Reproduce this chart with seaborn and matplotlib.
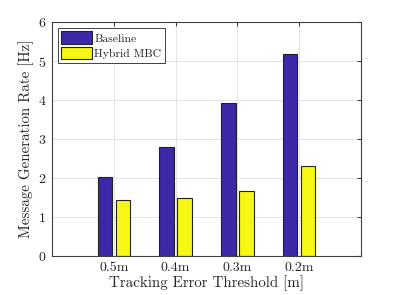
import pandas as pd
import numpy as np
import matplotlib
matplotlib.use("Agg")
import matplotlib.pyplot as plt
import seaborn as sns

thresholds = ["0.5m", "0.4m", "0.3m", "0.2m"]
baseline = [2.03, 2.79, 3.92, 5.18]
hybrid = [1.44, 1.49, 1.66, 2.32]
series_names = ["Baseline", "Hybrid MBC"]
y_ticks = [0, 1, 2, 3, 4, 5, 6]

df = pd.DataFrame({
    "Threshold": thresholds * 2,
    "Rate": baseline + hybrid,
    "Method": [series_names[0]] * 4 + [series_names[1]] * 4,
})

sns.set_style("whitegrid")
plt.rcParams["font.family"] = ["cmr10", "DejaVu Serif"]
plt.rcParams["axes.formatter.use_mathtext"] = True

fig = plt.figure(figsize=(3.99, 2.95), dpi=100)
ax = fig.add_axes([0.130, 0.132, 0.775, 0.793])

sns.barplot(data=df, x="Threshold", y="Rate", hue="Method", ax=ax,
            palette=["#3D28A8", "#F7F714"], width=0.58, gap=0.2,
            edgecolor="#222222", linewidth=0.8, saturation=1)

ax.set_xlim(-1, 4)
ax.set_ylim(0, 6)
ax.set_yticks(y_ticks)
ax.set_xlabel("Tracking Error Threshold [m]", fontsize=10.8, color="#262626", labelpad=1)
ax.set_ylabel("Message Generation Rate [Hz]", fontsize=10.8, color="#262626", labelpad=3)
ax.tick_params(axis="both", which="both", direction="in", length=3, labelsize=10,
               colors="#404040", top=True, right=True, labelcolor="#262626", pad=4)
ax.grid(True, color="#E3E3E3", linewidth=0.7)
ax.set_axisbelow(True)
for s in ax.spines.values():
    s.set_visible(True)
    s.set_color("#404040")
    s.set_linewidth(0.8)

leg = ax.legend(loc="upper left", fontsize=8.4, frameon=True, fancybox=False,
                edgecolor="#404040", framealpha=1, borderpad=0.3,
                handlelength=2.6, handleheight=1.3, handletextpad=0.25,
                labelspacing=0.2, borderaxespad=0.5)
leg.get_frame().set_linewidth(0.7)

fig.savefig("out.png", dpi=100)
